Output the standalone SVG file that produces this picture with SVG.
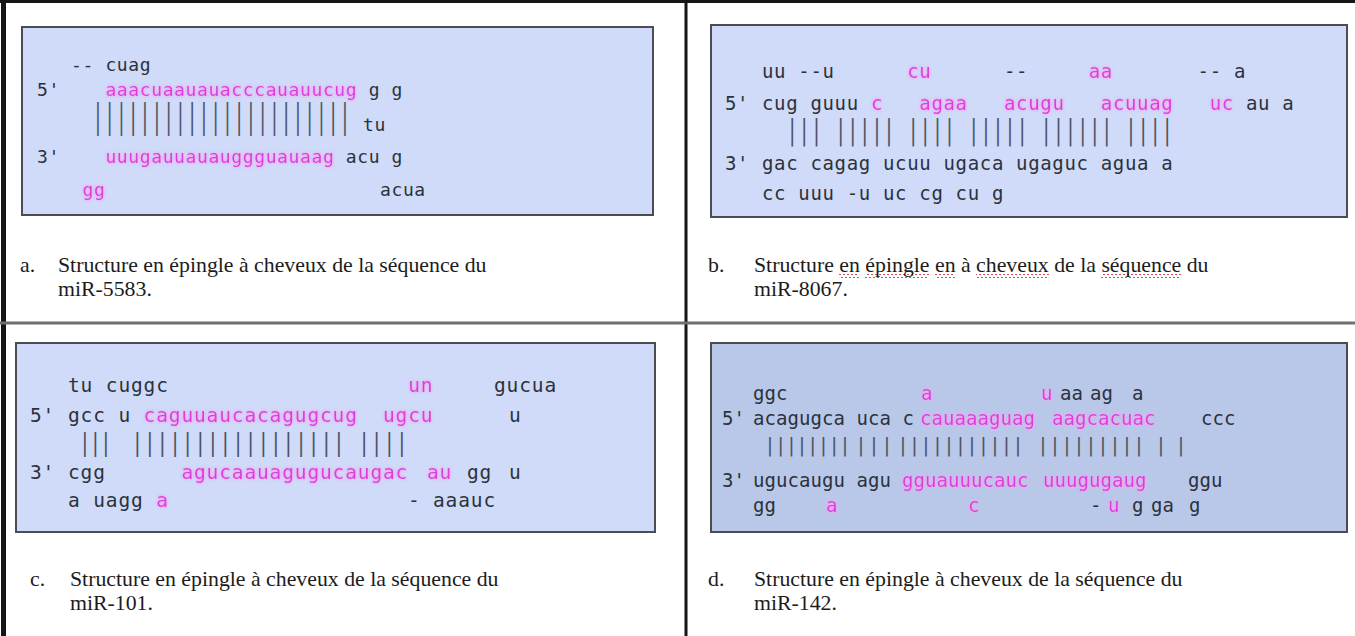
<svg xmlns="http://www.w3.org/2000/svg" width="1355" height="636" viewBox="0 0 1355 636" xml:space="preserve">
<defs>
  <!-- soft pink halo behind highlighted nucleotides -->
  <filter id="glow" filterUnits="userSpaceOnUse" x="0" y="0" width="1355" height="636">
    <feGaussianBlur in="SourceAlpha" stdDeviation="1.8" result="blur"/>
    <feFlood flood-color="#f2a4f2"/>
    <feComposite in2="blur" operator="in" result="halo"/>
    <feMerge><feMergeNode in="halo"/><feMergeNode in="halo"/><feMergeNode in="SourceGraphic"/></feMerge>
  </filter>
  <!-- spell-check squiggle -->
  <pattern id="squig" width="4" height="4" patternUnits="userSpaceOnUse">
    <path d="M0 3 L2 1 L4 3" fill="none" stroke="#d83a3a" stroke-width="0.9"/>
  </pattern>
</defs>
<style>
  .box{fill:#cfdbf8;stroke:#4b4d55;stroke-width:2}
  .box.dark{fill:#b9c8e9}
  .seq{font-family:"DejaVu Sans Mono","Liberation Mono",monospace;fill:#2c323c}
  .pink{fill:#dc3cdc;filter:url(#glow)}
  .bars{fill:#4c5466;text-anchor:middle;letter-spacing:0}
  .sa{font-size:18px;letter-spacing:0.61px}
  .sb{font-size:19px;letter-spacing:0.66px}
  .sc{font-size:19.5px;letter-spacing:0.86px}
  .sd{font-size:19px;letter-spacing:0.06px}
  .cap{font-family:"Liberation Serif","Times New Roman",serif;font-size:21.8px;fill:#1c1c1c}
  .rule{fill:#151515}
</style>

<rect width="1355" height="636" fill="#ffffff"/>

<!-- table rules -->
<g id="table">
  <rect class="rule" x="0" y="0" width="1355" height="3"/>
  <rect class="rule" x="1" y="0" width="5" height="636"/>
  <rect class="rule" x="684.5" y="0" width="3" height="636"/>
  <rect x="0" y="321.5" width="1355" height="3" fill="#6f6f6f"/>
</g>

<!-- a. miR-5583 -->
<g id="panel-a">
  <rect class="box" x="22" y="27" width="631" height="188"/>
  <g class="seq sa">
    <text y="71"><tspan x="71">--</tspan><tspan x="105.4">cuag</tspan></text>
    <text y="96"><tspan x="37">5'</tspan><tspan x="368.7">g</tspan><tspan x="391.6">g</tspan></text>
    <text class="pink" y="96" x="105.4">aaacuaauauacccauauucug</text>
    <text class="bars" transform="matrix(1 0 0 1.833 0 128.2)" y="0" x="98 109.76 121.52 133.28 145.04 156.8 168.56 180.32 192.08 203.84 215.6 227.36 239.12 250.88 262.64 274.4 286.16 297.92 309.68 321.44 333.2 344.96">||||||||||||||||||||||</text>
    <text y="131" x="363">tu</text>
    <text y="163"><tspan x="37">3'</tspan><tspan x="345.8">acu</tspan><tspan x="391.6">g</tspan></text>
    <text class="pink" y="163" x="105.4">uuugauuauauggguauaag</text>
    <text class="pink" y="196" x="82.5">gg</text>
    <text y="196" x="380">acua</text>
  </g>
  <text class="cap" y="272"><tspan x="20">a.</tspan><tspan x="58">Structure en épingle à cheveux de la séquence du</tspan></text>
  <text class="cap" x="58" y="296">miR-5583.</text>
</g>

<!-- b. miR-8067 -->
<g id="panel-b">
  <rect class="box" x="711" y="25" width="636" height="192"/>
  <g class="seq sb">
    <text y="78"><tspan x="762">uu --u</tspan><tspan x="1004">--</tspan><tspan x="1197.6">-- a</tspan></text>
    <text class="pink" y="78"><tspan x="907.2">cu</tspan><tspan x="1088.7">aa</tspan></text>
    <text y="110"><tspan x="725">5'</tspan><tspan x="762">cug guuu</tspan><tspan x="1246">au</tspan><tspan x="1282.3">a</tspan></text>
    <text class="pink" y="110"><tspan x="870.9">c</tspan><tspan x="919.3">agaa</tspan><tspan x="1004">acugu</tspan><tspan x="1100.8">acuuag</tspan><tspan x="1209.7">uc</tspan></text>
    <text class="bars" transform="matrix(1 0 0 1.526 0 140.2)" y="0" x="792.25 804.35 816.45 840.65 852.75 864.85 876.95 889.05 913.25 925.35 937.45 949.55 973.75 985.85 997.95 1010.05 1022.15 1046.35 1058.45 1070.55 1082.65 1094.75 1106.85 1131.05 1143.15 1155.25 1167.35">|||||||||||||||||||||||||||</text>
    <text y="170"><tspan x="725">3'</tspan><tspan x="762">gac cagag ucuu ugaca ugaguc agua a</tspan></text>
    <text y="200" x="762">cc uuu -u uc cg cu g</text>
  </g>
  <g id="spellcheck">
    <rect x="839" y="274" width="20" height="4" fill="url(#squig)"/>
    <rect x="865" y="274" width="64" height="4" fill="url(#squig)"/>
    <rect x="935" y="274" width="20" height="4" fill="url(#squig)"/>
    <rect x="976" y="274" width="73" height="4" fill="url(#squig)"/>
    <rect x="1101" y="274" width="80" height="4" fill="url(#squig)"/>
  </g>
  <text class="cap" y="272"><tspan x="708">b.</tspan><tspan x="754">Structure en épingle en à cheveux de la séquence du</tspan></text>
  <text class="cap" x="754" y="296">miR-8067.</text>
</g>

<!-- c. miR-101 -->
<g id="panel-c">
  <rect class="box" x="16" y="343" width="639" height="189"/>
  <g class="seq sc">
    <text y="392"><tspan x="68">tu cuggc</tspan><tspan x="494">gucua</tspan></text>
    <text class="pink" y="392" x="408.2">un</text>
    <text y="422"><tspan x="30">5'</tspan><tspan x="68">gcc u</tspan><tspan x="509">u</tspan></text>
    <text class="pink" y="422"><tspan x="143.6">caguuaucacagugcug</tspan><tspan x="383">ugcu</tspan></text>
    <text class="bars" transform="matrix(1 0 0 1.231 0 451.3)" y="0" x="85 95.5 106 137.3 149.9 162.5 175.1 187.7 200.3 212.9 225.5 238.1 250.7 263.3 275.9 288.5 301.1 313.7 326.3 338.9 364.1 376.7 389.3 401.9">||||||||||||||||||||||||</text>
    <text y="479"><tspan x="30">3'</tspan><tspan x="68">cgg</tspan><tspan x="467">gg</tspan><tspan x="509">u</tspan></text>
    <text class="pink" y="479"><tspan x="181.4">agucaauagugucaugac</tspan><tspan x="427">au</tspan></text>
    <text y="507"><tspan x="68">a uagg</tspan><tspan x="408">-</tspan><tspan x="433">aaauc</tspan></text>
    <text class="pink" y="507" x="156.2">a</text>
  </g>
  <text class="cap" y="586"><tspan x="30">c.</tspan><tspan x="70">Structure en épingle à cheveux de la séquence du</tspan></text>
  <text class="cap" x="70" y="610">miR-101.</text>
</g>

<!-- d. miR-142 -->
<g id="panel-d">
  <rect class="box dark" x="711" y="343" width="636" height="189"/>
  <g class="seq sd">
    <text y="400"><tspan x="753">ggc</tspan><tspan x="1060">aa</tspan><tspan x="1090">ag</tspan><tspan x="1132">a</tspan></text>
    <text class="pink" y="400"><tspan x="921">a</tspan><tspan x="1041">u</tspan></text>
    <text y="425"><tspan x="722">5'</tspan><tspan x="753">acagugca uca c</tspan><tspan x="1201">ccc</tspan></text>
    <text class="pink" y="425"><tspan x="920">cauaaaguag</tspan><tspan x="1052">aagcacuac</tspan></text>
    <text class="bars" transform="matrix(1 0 0 1.053 0 452.3)" y="0" x="770 780.7 791.4 802.1 812.8 823.5 834.2 844.9 861 874 887 903 914.5 926 937.5 949 960.5 972 983.5 995 1006.5 1018 1043 1055 1067 1079 1091 1103 1115 1127 1139 1161 1181">|||||||||||||||||||||||||||||||||</text>
    <text y="487"><tspan x="722">3'</tspan><tspan x="753">ugucaugu agu</tspan><tspan x="1188">ggu</tspan></text>
    <text class="pink" y="487"><tspan x="902">gguauuucauc</tspan><tspan x="1043">uuugugaug</tspan></text>
    <text y="512"><tspan x="753">gg</tspan><tspan x="1090">-</tspan><tspan x="1132">g</tspan><tspan x="1151">ga</tspan><tspan x="1189">g</tspan></text>
    <text class="pink" y="512"><tspan x="826">a</tspan><tspan x="968">c</tspan><tspan x="1108">u</tspan></text>
  </g>
  <text class="cap" y="586"><tspan x="708">d.</tspan><tspan x="754">Structure en épingle à cheveux de la séquence du</tspan></text>
  <text class="cap" x="754" y="610">miR-142.</text>
</g>
</svg>
